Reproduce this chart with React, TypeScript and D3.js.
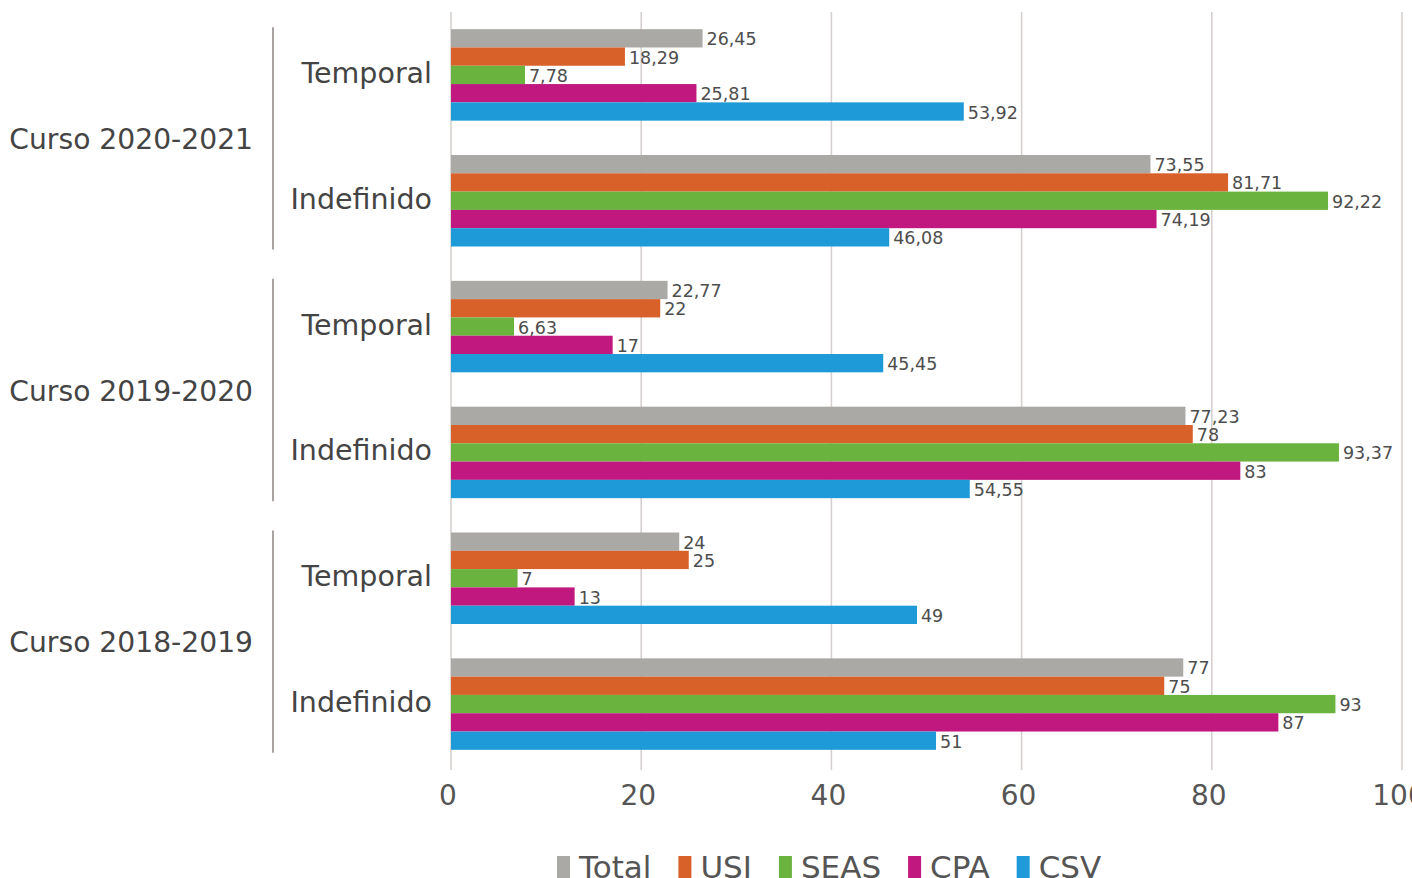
import React, { useEffect, useRef } from "react";
import * as d3 from "d3";

const courses = ["Curso 2020-2021", "Curso 2019-2020", "Curso 2018-2019"];
const contracts = ["Temporal", "Indefinido"];
const seriesNames = ["Total", "USJ", "SEAS", "CPA", "CSV"];
const seriesColors = ["#aaa9a6", "#d8612a", "#6bb33f", "#c0187f", "#1d9ad7"];

const c2021Temporal = [26.45, 18.29, 7.78, 25.81, 53.92];
const c2021Indefinido = [73.55, 81.71, 92.22, 74.19, 46.08];
const c1920Temporal = [22.77, 22, 6.63, 17, 45.45];
const c1920Indefinido = [77.23, 78, 93.37, 83, 54.55];
const c1819Temporal = [24, 25, 7, 13, 49];
const c1819Indefinido = [77, 75, 93, 87, 51];

const xTicks = [0, 20, 40, 60, 80, 100];

const groupValues = [
  [c2021Temporal, c2021Indefinido],
  [c1920Temporal, c1920Indefinido],
  [c1819Temporal, c1819Indefinido],
];

const W = 1412;
const H = 878;
const FONT = "'DejaVu Sans', sans-serif";

export default function App() {
  const ref = useRef<SVGSVGElement | null>(null);

  useEffect(() => {
    const svg = d3.select(ref.current);
    svg.selectAll("*").remove();

    const rows: { key: string; course: number; contract: number; values: number[] }[] = [];
    courses.forEach((c, ci) =>
      contracts.forEach((k, ki) =>
        rows.push({ key: `${ci}-${ki}`, course: ci, contract: ki, values: groupValues[ci][ki] })
      )
    );

    const x = d3.scaleLinear().domain([0, 100]).range([451, 1402]);
    const y = d3
      .scaleBand<string>()
      .domain(rows.map((r) => r.key))
      .range([12, 767])
      .paddingInner(0.273)
      .paddingOuter(0.1365);
    const yInner = d3.scaleBand<string>().domain(seriesNames).range([0, y.bandwidth()]);

    // gridlines
    svg
      .append("g")
      .selectAll("line")
      .data(xTicks)
      .join("line")
      .attr("x1", (d) => x(d))
      .attr("x2", (d) => x(d))
      .attr("y1", 12)
      .attr("y2", 770)
      .attr("stroke", "#d6d1cf")
      .attr("stroke-width", 1.6);

    // bars
    const rowG = svg
      .append("g")
      .selectAll("g")
      .data(rows)
      .join("g")
      .attr("transform", (r) => `translate(0,${y(r.key)})`);

    rowG
      .selectAll("rect")
      .data((r) => r.values.map((v, i) => ({ v, i })))
      .join("rect")
      .attr("x", x(0))
      .attr("y", (d) => yInner(seriesNames[d.i])!)
      .attr("width", (d) => x(d.v) - x(0))
      .attr("height", yInner.bandwidth())
      .attr("fill", (d) => seriesColors[d.i]);

    const fmt = (v: number) => String(v).replace(".", ",");
    rowG
      .selectAll("text")
      .data((r) => r.values.map((v, i) => ({ v, i })))
      .join("text")
      .attr("x", (d) => x(d.v) + 4)
      .attr("y", (d) => yInner(seriesNames[d.i])! + yInner.bandwidth() / 2 + 2)
      .attr("dominant-baseline", "middle")
      .attr("font-family", FONT)
      .attr("font-size", 17.5)
      .attr("fill", "#4d4d4d")
      .text((d) => fmt(d.v));

    // contract labels
    svg
      .append("g")
      .selectAll("text")
      .data(rows)
      .join("text")
      .attr("x", 432)
      .attr("y", (r) => y(r.key)! + y.bandwidth() / 2)
      .attr("text-anchor", "end")
      .attr("dominant-baseline", "middle")
      .attr("font-family", FONT)
      .attr("font-size", 28.5)
      .attr("fill", "#444")
      .text((r) => contracts[r.contract]);

    // course labels and separators
    const courseG = svg.append("g");
    courses.forEach((c, ci) => {
      const top = y(`${ci}-0`)!;
      const bottom = y(`${ci}-1`)! + y.bandwidth();
      courseG
        .append("line")
        .attr("x1", 273)
        .attr("x2", 273)
        .attr("y1", top - 2)
        .attr("y2", bottom + 3)
        .attr("stroke", "#a8a2a0")
        .attr("stroke-width", 2);
      courseG
        .append("text")
        .attr("x", 253)
        .attr("y", (top + bottom) / 2 + 3)
        .attr("text-anchor", "end")
        .attr("dominant-baseline", "middle")
        .attr("font-family", FONT)
        .attr("font-size", 28.2)
        .attr("fill", "#444")
        .text(c);
    });

    // x axis tick labels
    svg
      .append("g")
      .selectAll("text")
      .data(xTicks)
      .join("text")
      .attr("x", (d) => x(d) - 3)
      .attr("y", 805)
      .attr("text-anchor", "middle")
      .attr("font-family", FONT)
      .attr("font-size", 28)
      .attr("fill", "#555")
      .text((d) => String(d));

    // legend
    const legend = svg.append("g");
    let lx = 557;
    seriesNames.forEach((name, i) => {
      legend
        .append("rect")
        .attr("x", lx)
        .attr("y", 856)
        .attr("width", 13)
        .attr("height", 24)
        .attr("fill", seriesColors[i]);
      const t = legend
        .append("text")
        .attr("x", lx + 22)
        .attr("y", 878)
        .attr("font-family", FONT)
        .attr("font-size", 31)
        .attr("fill", "#555")
        .text(name);
      const w = (t.node() as SVGTextElement).getComputedTextLength();
      lx += 22 + w + 27;
    });
  }, []);

  return (
    <svg
      ref={ref}
      width={W}
      height={H}
      style={{ position: "absolute", left: 0, top: 0, background: "#fff" }}
    />
  );
}
